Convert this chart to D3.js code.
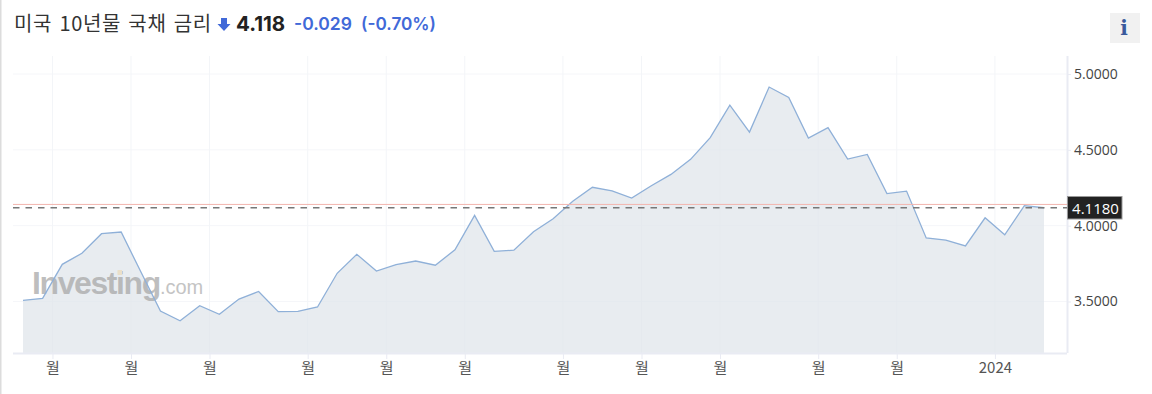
<!DOCTYPE html>
<html>
<head>
<meta charset="utf-8">
<script src="https://cdn.jsdelivr.net/npm/d3@7"></script>
<style>
  html, body { margin: 0; padding: 0; background: #fff; overflow: hidden; }
  svg { display: block; }
</style>
</head>
<body>
<svg id="chart"></svg>
<script>
// Weekly yield readings, one per week
const yields = [
  3.508, 3.521, 3.745, 3.818, 3.947, 3.958, 3.696, 3.437, 3.373, 3.472,
  3.416, 3.516, 3.566, 3.433, 3.435, 3.464, 3.686, 3.811, 3.701, 3.743,
  3.767, 3.739, 3.841, 4.068, 3.831, 3.838, 3.960, 4.046, 4.161, 4.253,
  4.230, 4.182, 4.263, 4.338, 4.437, 4.580, 4.795, 4.617, 4.914, 4.846,
  4.578, 4.646, 4.439, 4.470, 4.211, 4.228, 3.919, 3.905, 3.866, 4.052,
  3.940, 4.132, 4.118
];
const xTickWeeks = [1.5, 5.5, 9.5, 14.5, 18.5, 22.5, 27.5, 31.5, 35.5, 40.5, 44.5, 49.5];
const xTickLabels = ["월", "월", "월", "월", "월", "월", "월", "월", "월", "월", "월", "2024"];
const yTicks = [3.5, 4, 4.5, 5];
const lastPrice = 4.118;
const prevLine = 4.14;

const width = 1152, height = 394;
const svg = d3.select("#chart").attr("width", width).attr("height", height);

const plot = { left: 13, right: 1067, top: 56, bottom: 353 };
const x = d3.scaleLinear().domain([0, yields.length - 1]).range([23, 1044]);
const y = d3.scaleLinear().domain([3.5, 5]).range([301.5, 74]);

// Left page edge
svg.append("rect").attr("x", 0).attr("y", 0).attr("width", 1.5).attr("height", height).attr("fill", "#dcdcdc");

// Grid
svg.append("g").selectAll("line").data(yTicks).enter().append("line")
  .attr("x1", plot.left).attr("x2", plot.right)
  .attr("y1", d => y(d)).attr("y2", d => y(d))
  .attr("stroke", "#f5f6f9");
svg.append("g").selectAll("line").data(xTickWeeks).enter().append("line")
  .attr("x1", d => x(d)).attr("x2", d => x(d))
  .attr("y1", plot.top).attr("y2", plot.bottom)
  .attr("stroke", "#f3f5f8");

// Area and line
const area = d3.area()
  .x((d, i) => x(i))
  .y0(plot.bottom)
  .y1(d => y(d));
svg.append("path").datum(yields).attr("d", area).attr("fill", "#dfe4ea").attr("fill-opacity", 0.72);

// Watermark
const mark = svg.append("text").attr("x", 32).attr("y", 293.5)
  .style("font-family", "'Liberation Sans', sans-serif");
mark.append("tspan").text("Investing")
  .style("font-size", "32px").style("font-weight", "bold").style("letter-spacing", "-1.4px")
  .attr("fill", "#a9a9a9").attr("fill-opacity", 0.75);
mark.append("tspan").text(".com")
  .style("font-size", "20px")
  .attr("fill", "#c4c4c4");
svg.append("rect").attr("x", 117.5).attr("y", 270).attr("width", 4.5).attr("height", 5).attr("fill", "#eadfc9");

svg.append("path").datum(yields)
  .attr("d", d3.line().x((d, i) => x(i)).y(d => y(d)))
  .attr("fill", "none").attr("stroke", "#8fb0d8").attr("stroke-width", 1.3);

// Axes
const xAxis = svg.append("g")
  .attr("transform", `translate(0,${plot.bottom})`)
  .call(d3.axisBottom(x).tickValues(xTickWeeks).tickSize(6).tickPadding(3).tickFormat((d, i) => xTickLabels[i]));
xAxis.select(".domain").attr("d", `M${plot.left},0.5H${plot.right}`).attr("stroke", "#e9ebf3").attr("stroke-width", 2);
xAxis.selectAll(".tick line").attr("stroke", "#e9ebf3");
xAxis.selectAll("text")
  .attr("fill", "#555")
  .style("font-size", "15px")
  .style("font-family", "'Noto Sans CJK KR', 'Open Sans', sans-serif");

const yAxis = svg.append("g")
  .attr("transform", `translate(${plot.right},0)`)
  .call(d3.axisRight(y).tickValues(yTicks).tickSize(4).tickPadding(3).tickFormat(d3.format(".4f")));
yAxis.select(".domain").attr("d", `M0.5,${plot.top}V${plot.bottom}`).attr("stroke", "#e9ebf3").attr("stroke-width", 2);
yAxis.selectAll(".tick line").attr("stroke", "#e9ebf3");
yAxis.selectAll("text")
  .attr("fill", "#444")
  .style("font-size", "14px")
  .style("font-family", "'Open Sans', sans-serif");

// Reference lines
svg.append("line")
  .attr("x1", plot.left).attr("x2", plot.right)
  .attr("y1", y(prevLine)).attr("y2", y(prevLine))
  .attr("stroke", "#f3b5ae").attr("stroke-width", 1);
svg.append("line")
  .attr("x1", plot.left).attr("x2", plot.right)
  .attr("y1", y(lastPrice)).attr("y2", y(lastPrice))
  .attr("stroke", "#777").attr("stroke-width", 1.5).attr("stroke-dasharray", "6.5,6");

// Last price tag
svg.append("rect")
  .attr("x", 1067.5).attr("y", 196.5).attr("width", 54.5).attr("height", 22.5)
  .attr("fill", "#222").attr("stroke", "#999").attr("stroke-width", 1);
svg.append("text")
  .attr("x", 1095.5).attr("y", 213.5)
  .attr("text-anchor", "middle")
  .attr("fill", "#fff")
  .style("font-size", "15px")
  .style("font-family", "'Open Sans', sans-serif")
  .text(d3.format(".4f")(lastPrice));

// Header
svg.append("text").attr("x", 14).attr("y", 31)
  .attr("fill", "#333")
  .style("font-size", "20px")
  .style("letter-spacing", "0.7px")
  .style("word-spacing", "2px")
  .style("font-family", "'Noto Sans CJK KR', sans-serif")
  .text("미국 10년물 국채 금리");
svg.append("path")
  .attr("d", "M221,18H227V24H230.5L224,31L217.5,24H221Z")
  .attr("fill", "#4169d8");
svg.append("text").attr("x", 236).attr("y", 31)
  .attr("fill", "#222")
  .style("font-size", "20.5px").style("font-weight", "700")
  .style("font-family", "Inter, sans-serif")
  .text("4.118");
svg.append("text").attr("x", 294).attr("y", 30)
  .attr("fill", "#4169d8")
  .style("font-size", "17.5px").style("font-weight", "600")
  .style("font-family", "Inter, sans-serif")
  .text("-0.029");
svg.append("text").attr("x", 361).attr("y", 30)
  .attr("fill", "#4169d8")
  .style("font-size", "17.2px").style("font-weight", "600")
  .style("font-family", "Inter, sans-serif")
  .text("(-0.70%)");

// Info button
svg.append("rect").attr("x", 1110).attr("y", 13).attr("width", 30).attr("height", 30).attr("fill", "#f1f1f1");
svg.append("text").attr("x", 1124).attr("y", 35)
  .attr("text-anchor", "middle")
  .attr("fill", "#3a5a9c")
  .style("font-size", "20px").style("font-weight", "bold")
  .style("font-family", "'DejaVu Serif', serif")
  .text("i");
</script>
</body>
</html>
